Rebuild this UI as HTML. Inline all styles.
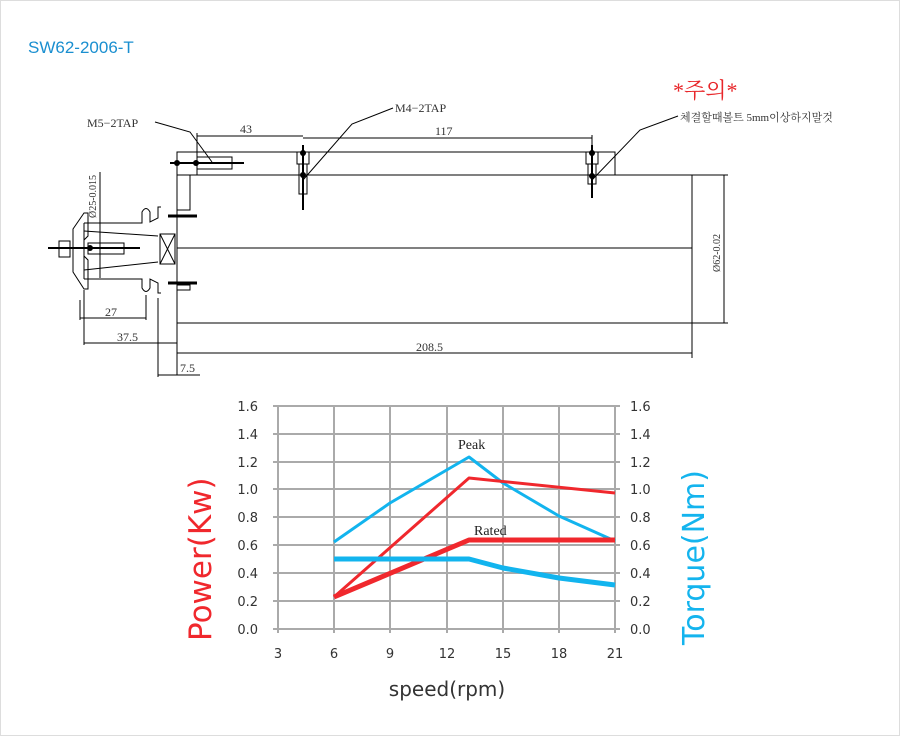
<!DOCTYPE html>
<html><head><meta charset="utf-8"><style>
body{margin:0;background:#fff;}
.serif text{font-family:"Liberation Serif","Noto Serif CJK KR",serif;}
.sans text, text.sans{font-family:"DejaVu Sans","Liberation Sans",sans-serif;}
</style></head><body>
<svg width="900" height="736" viewBox="0 0 900 736" xmlns="http://www.w3.org/2000/svg">
<rect x="0.5" y="0.5" width="899" height="735" fill="#fff" stroke="#ddd"/>
<text x="28" y="53" font-size="17" fill="#1a8fd0" style="font-family:'Liberation Sans',sans-serif">SW62-2006-T</text>
<g stroke="#000" fill="none" stroke-width="1">
<rect x="177" y="175" width="515" height="148"/>
<line x1="177" y1="248" x2="692" y2="248"/>
<rect x="197" y="152" width="418" height="23"/>
<path d="M177 152 H197 V175 H190 V210 H177 Z"/>
<path d="M177 285 H190 V290 H177"/>
<path d="M177 210 V175 M177 285 V323"/>
<path d="M84 213 L73 229 V272 L84 289 H88 V260 L84 256 V240 L88 236 V213 Z"/>
<path d="M84 223 H142 V212 Q146 205 150 212 V222 L158 218 V207 H161"/>
<path d="M84 279 H142 V288 Q146 295 150 288 V279 L158 283 V293 H161"/>
<path d="M84 223 V279"/>
<path d="M84 231 L158 236 M84 270 L158 262"/>
<rect x="160" y="234" width="15" height="30"/>
<path d="M160 234 L175 264 M175 234 L160 264"/>
<rect x="88" y="243" width="36" height="11"/>
<rect x="59" y="241" width="11" height="16"/>
<line x1="48" y1="248" x2="140" y2="248" stroke-width="2"/>
<rect x="197" y="157" width="35" height="12"/>
<line x1="170" y1="163" x2="244" y2="163" stroke-width="2"/>
<rect x="297" y="152" width="12" height="12"/><rect x="299" y="164" width="8" height="30"/>
<line x1="303" y1="145" x2="303" y2="210" stroke-width="2"/>
<rect x="586" y="152" width="12" height="12"/><rect x="588" y="164" width="8" height="20"/>
<line x1="592" y1="145" x2="592" y2="198" stroke-width="2"/>
<line x1="168" y1="216" x2="197" y2="216" stroke-width="3"/>
<line x1="168" y1="283" x2="197" y2="283" stroke-width="3"/>
<line x1="197" y1="136" x2="303" y2="136"/><line x1="303" y1="138" x2="592" y2="138"/>
<line x1="197" y1="133" x2="197" y2="152"/><line x1="592" y1="135" x2="592" y2="145"/>
<line x1="692" y1="175" x2="728" y2="175"/><line x1="692" y1="323" x2="728" y2="323"/>
<line x1="724" y1="175" x2="724" y2="323"/>
<line x1="80" y1="300" x2="80" y2="320"/><line x1="146" y1="295" x2="146" y2="320"/>
<line x1="80" y1="318" x2="146" y2="318"/>
<line x1="84" y1="290" x2="84" y2="345"/><line x1="84" y1="343" x2="177" y2="343"/>
<line x1="177" y1="323" x2="177" y2="375"/><line x1="177" y1="353" x2="692" y2="353"/>
<line x1="692" y1="323" x2="692" y2="358"/>
<line x1="158" y1="298" x2="158" y2="377"/><line x1="158" y1="375" x2="200" y2="375"/>
<line x1="100" y1="172" x2="100" y2="278"/>
<path d="M155 122 L190 132 L212 162"/>
<path d="M393 108 L352 124 L303 180"/>
<path d="M678 116 L640 130 L592 180"/>
</g>
<g fill="#000">
<circle cx="303" cy="153" r="3"/><circle cx="303" cy="175" r="3"/>
<circle cx="592" cy="153" r="3"/><circle cx="592" cy="176" r="3"/>
<circle cx="177" cy="163" r="3"/><circle cx="196" cy="163" r="3"/>
<circle cx="90" cy="248" r="3"/>
</g>
<g class="serif" font-size="12" fill="#333">
<text x="87" y="127">M5−2TAP</text>
<text x="395" y="112">M4−2TAP</text>
<text x="240" y="133">43</text>
<text x="435" y="135">117</text>
<text x="105" y="316">27</text>
<text x="117" y="341">37.5</text>
<text x="416" y="351">208.5</text>
<text x="180" y="372">7.5</text>
<text x="680" y="121" font-size="11">체결할때볼트 5mm이상하지말것</text>
<text transform="translate(96,218) rotate(-90)" font-size="10">Ø25-0.015</text>
<text transform="translate(720,272) rotate(-90)" font-size="10">Ø62-0.02</text>
<text x="673" y="98" font-size="22" fill="#e8262a">*주의*</text>
</g>
<g stroke="#aaa" stroke-width="2">
<line x1="278" y1="406" x2="278" y2="633"/><line x1="334" y1="406" x2="334" y2="633"/>
<line x1="390" y1="406" x2="390" y2="633"/><line x1="447" y1="406" x2="447" y2="633"/>
<line x1="503" y1="406" x2="503" y2="633"/><line x1="559" y1="406" x2="559" y2="633"/>
<line x1="615" y1="406" x2="615" y2="633"/>
<line x1="273" y1="406" x2="620" y2="406"/><line x1="273" y1="434" x2="620" y2="434"/>
<line x1="273" y1="462" x2="620" y2="462"/><line x1="273" y1="489" x2="620" y2="489"/>
<line x1="273" y1="517" x2="620" y2="517"/><line x1="273" y1="545" x2="620" y2="545"/>
<line x1="273" y1="573" x2="620" y2="573"/><line x1="273" y1="601" x2="620" y2="601"/>
<line x1="273" y1="629" x2="620" y2="629"/>
</g>
<g class="sans" font-size="13" fill="#333">
<g text-anchor="end">
<text x="258" y="411">1.6</text><text x="258" y="439">1.4</text><text x="258" y="467">1.2</text><text x="258" y="494">1.0</text><text x="258" y="522">0.8</text><text x="258" y="550">0.6</text><text x="258" y="578">0.4</text><text x="258" y="606">0.2</text><text x="258" y="634">0.0</text>
</g>
<text x="630" y="411">1.6</text><text x="630" y="439">1.4</text><text x="630" y="467">1.2</text><text x="630" y="494">1.0</text><text x="630" y="522">0.8</text><text x="630" y="550">0.6</text><text x="630" y="578">0.4</text><text x="630" y="606">0.2</text><text x="630" y="634">0.0</text>
<g text-anchor="middle">
<text x="278" y="658">3</text><text x="334" y="658">6</text><text x="390" y="658">9</text><text x="447" y="658">12</text><text x="503" y="658">15</text><text x="559" y="658">18</text><text x="615" y="658">21</text>
<text x="447" y="696" font-size="20">speed(rpm)</text>
</g>
<text transform="translate(211,641) rotate(-90)" font-size="31" fill="#f0282d">Power(Kw)</text>
<text transform="translate(704,645) rotate(-90)" font-size="30" fill="#14b4ee">Torque(Nm)</text>
</g>
<g fill="none" stroke-linejoin="round">
<polyline points="334,542 390,503 469,457 503,483 559,516 615,541" stroke="#12b4ee" stroke-width="3"/>
<polyline points="334,597 469,478 615,493" stroke="#f0282d" stroke-width="3"/>
<polyline points="334,597 469,540 615,540" stroke="#f0282d" stroke-width="5"/>
<polyline points="334,559 469,559 503,568 559,578 615,585" stroke="#12b4ee" stroke-width="5"/>
</g>
<g class="serif" font-size="14" fill="#222">
<text x="458" y="449">Peak</text>
<text x="474" y="535">Rated</text>
</g>
</svg>
</body></html>
